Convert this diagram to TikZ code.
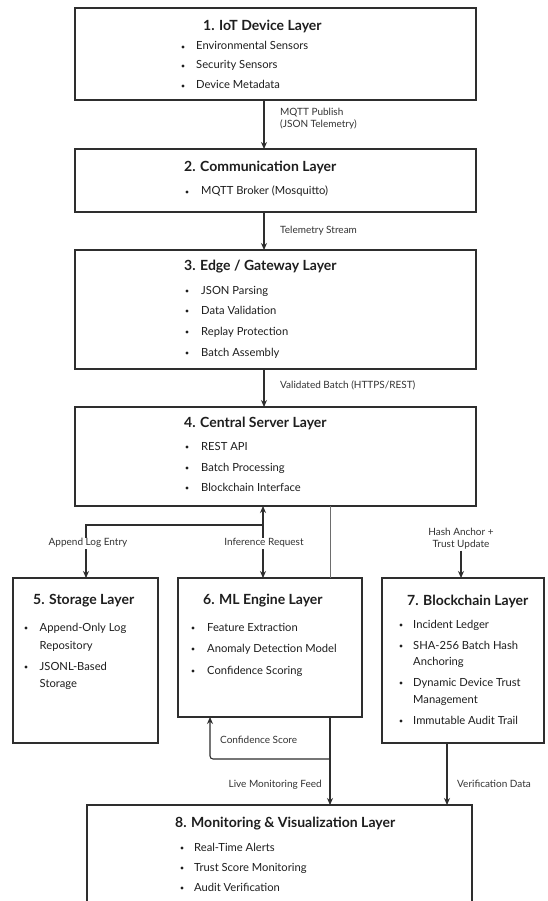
\documentclass[tikz,border=0pt]{standalone}
\usepackage{fontspec}
\setmainfont{Lato}
\usetikzlibrary{arrows.meta,calc}
\definecolor{linec}{HTML}{2E2E2E}
\definecolor{textc}{HTML}{1E1E1E}
\definecolor{labelc}{HTML}{333333}
% bullet item: name, bullet x, y, text x, text
\newcommand\bulletitem[5]{%
  \fill[textc] (#2,#3) circle (1.7pt);
  \node[itemtext] (#1) at (#4,#3) {#5};}
\newcommand\moreline[4]{%
  \node[itemtext] (#1) at (#2,#3) {#4};}
\begin{document}
\begin{tikzpicture}[x=1pt,y=-1pt,
  layerbox/.style={draw=linec,line width=1.2pt,fill=white,inner sep=0pt,outer sep=0pt},
  titletext/.style={anchor=west,inner sep=0pt,text=textc,font=\fontsize{14}{16}\selectfont\bfseries},
  itemtext/.style={anchor=west,inner sep=0pt,text=textc,font=\fontsize{11.2}{13}\selectfont,text height=8pt,text depth=2pt},
  flowlabel/.style={inner sep=1pt,text=labelc,font=\fontsize{10}{12}\selectfont,text height=7pt,text depth=2pt},
  link/.style={draw=linec,line width=1.1pt},
  thinlink/.style={draw=linec!70,line width=0.8pt},
  arr/.style={link,-{Stealth[length=7pt,width=6pt]}}]
\useasboundingbox (0,0) rectangle (547,901);
\fill[white] (0,0) rectangle (547,901);

% ---------- layer boxes ----------
\node[layerbox,minimum width=401pt,minimum height=92pt]  (b1) at (275.5,54) {};
\node[layerbox,minimum width=401pt,minimum height=63pt]  (b2) at (275.5,180.5) {};
\node[layerbox,minimum width=401pt,minimum height=119pt] (b3) at (275.5,309.5) {};
\node[layerbox,minimum width=401pt,minimum height=99pt]  (b4) at (275.5,456.5) {};
\node[layerbox,minimum width=145pt,minimum height=165pt] (b5) at (85.5,660.5) {};
\node[layerbox,minimum width=184pt,minimum height=139pt] (b6) at (270,647.5) {};
\node[layerbox,minimum width=162pt,minimum height=165pt] (b7) at (463,660.5) {};
\node[layerbox,minimum width=385pt,minimum height=130pt] (b8) at (279.5,870) {};

% ---------- 1. IoT Device Layer ----------
\node[titletext] (t1) at (203,26) {1. IoT Device Layer};
\bulletitem{i1a}{183}{47}{196}{Environmental Sensors}
\bulletitem{i1b}{183}{66}{196}{Security Sensors}
\bulletitem{i1c}{183}{86}{196}{Device Metadata}

% ---------- 2. Communication Layer ----------
\node[titletext] (t2) at (184,167) {2. Communication Layer};
\bulletitem{i2a}{187}{192}{201}{MQTT Broker (Mosquitto)}

% ---------- 3. Edge / Gateway Layer ----------
\node[titletext] (t3) at (184,267) {3. Edge / Gateway Layer};
\bulletitem{i3a}{187}{291}{201}{JSON Parsing}
\bulletitem{i3b}{187}{311}{201}{Data Validation}
\bulletitem{i3c}{187}{332}{201}{Replay Protection}
\bulletitem{i3d}{187}{353}{201}{Batch Assembly}

% ---------- 4. Central Server Layer ----------
\node[titletext] (t4) at (184,423) {4. Central Server Layer};
\bulletitem{i4a}{187}{447}{201}{REST API}
\bulletitem{i4b}{187}{468}{201}{Batch Processing}
\bulletitem{i4c}{187}{488}{201}{Blockchain Interface}

% ---------- 5. Storage Layer ----------
\node[titletext] (t5) at (33,601) {5. Storage Layer};
\bulletitem{i5a}{26}{628}{39.5}{Append-Only Log}
\moreline{i5b}{39.5}{646}{Repository}
\bulletitem{i5c}{26}{667}{39.5}{JSONL-Based}
\moreline{i5d}{39.5}{684}{Storage}

% ---------- 6. ML Engine Layer ----------
\node[titletext] (t6) at (203,601) {6. ML Engine Layer};
\bulletitem{i6a}{193}{628}{207}{Feature Extraction}
\bulletitem{i6b}{193}{649}{207}{Anomaly Detection Model}
\bulletitem{i6c}{193}{671}{207}{Confidence Scoring}

% ---------- 7. Blockchain Layer ----------
\node[titletext] (t7) at (407,601) {7. Blockchain Layer};
\bulletitem{i7a}{401}{625}{413}{Incident Ledger}
\bulletitem{i7b}{401}{646}{413}{SHA-256 Batch Hash}
\moreline{i7c}{413}{662}{Anchoring}
\bulletitem{i7d}{401}{683}{413}{Dynamic Device Trust}
\moreline{i7e}{413}{700}{Management}
\bulletitem{i7f}{401}{721}{413}{Immutable Audit Trail}

% ---------- 8. Monitoring & Visualization Layer ----------
\node[titletext] (t8) at (175,824) {8. Monitoring \& Visualization Layer};
\bulletitem{i8a}{182}{848}{194}{Real-Time Alerts}
\bulletitem{i8b}{182}{868}{194}{Trust Score Monitoring}
\bulletitem{i8c}{182}{888}{194}{Audit Verification}

% ---------- vertical spine ----------
\coordinate (spine) at (264,0);
\draw[arr] (b1.south -| spine) -- (b2.north -| spine);
\draw[arr] (b2.south -| spine) -- (b3.north -| spine);
\draw[arr] (b3.south -| spine) -- (b4.north -| spine);
\node[flowlabel,anchor=west,align=left] (l1) at (279,125) {MQTT Publish\\(JSON Telemetry)};
\node[flowlabel,anchor=west] (l2) at (279,231) {Telemetry Stream};
\node[flowlabel,anchor=west] (l3) at (279,386) {Validated Batch (HTTPS/REST)};

% ---------- central server to storage / ML ----------
\coordinate (junc) at (263,525);
\coordinate (storex) at (86,0);
\draw[arr] (junc) -- (b4.south -| junc);
\draw[arr] (junc) -- (b6.north -| junc);
\draw[arr] (junc) -- (junc -| storex) -- (b5.north -| storex);
\node[flowlabel,fill=white] (l4) at (88,543) {Append Log Entry};
\node[flowlabel,fill=white] (l5) at (264,543) {Inference Request};

% ---------- feed line through the ML engine ----------
\coordinate (feedx) at (330,0);
\draw[thinlink] (b4.south -| feedx) -- (b6.north -| feedx);
\draw[arr] (b6.south -| feedx) -- (b8.north -| feedx);
\coordinate (conf) at (330,759);
\coordinate (confx) at (210,0);
\draw[arr,rounded corners=3pt] (conf) -| (b6.south -| confx);
\node[flowlabel,anchor=west] (l6) at (219,741) {Confidence Score};
\node[flowlabel,anchor=east] (l7) at (323,785) {Live Monitoring Feed};

% ---------- blockchain ----------
\node[flowlabel,align=center] (l8) at (461,545) {Hash Anchor +\\Trust Update};
\coordinate (hashx) at (461,0);
\draw[arr] (l8.south -| hashx) -- (b7.north -| hashx);
\coordinate (verx) at (447,0);
\draw[arr] (b7.south -| verx) -- (b8.north -| verx);
\node[flowlabel,anchor=west] (l9) at (456,785) {Verification Data};
\end{tikzpicture}
\end{document}
